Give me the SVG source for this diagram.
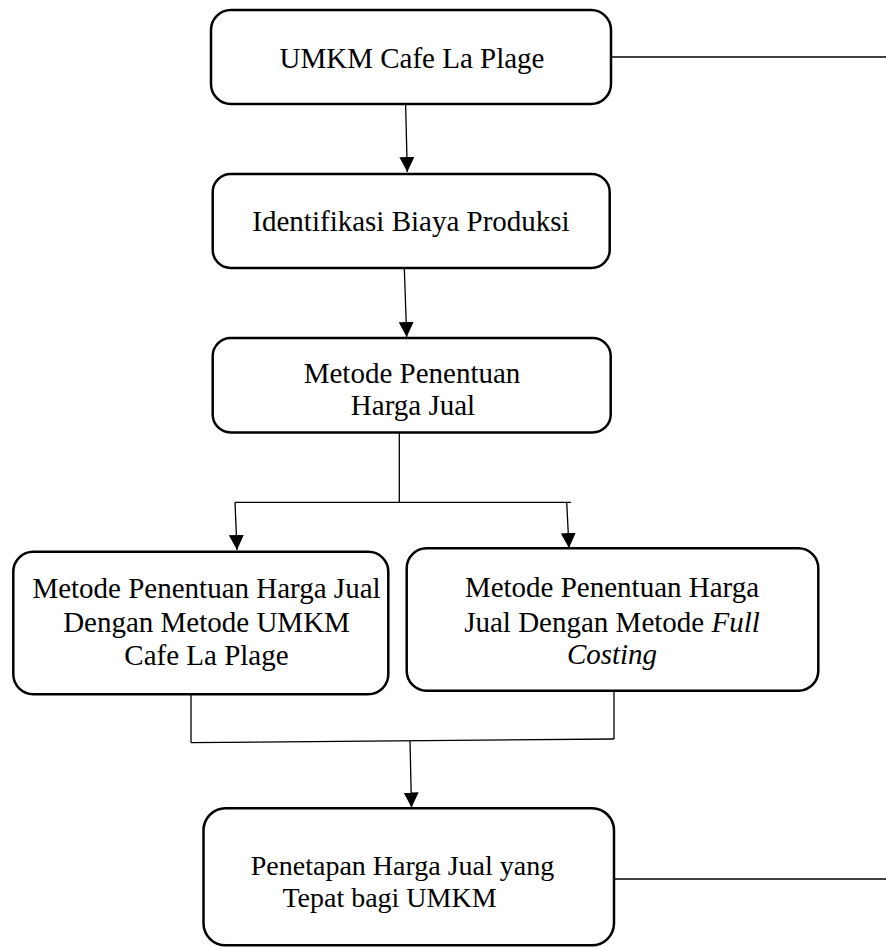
<svg xmlns="http://www.w3.org/2000/svg" width="886" height="947" viewBox="0 0 886 947">
<style>
.box{fill:#fff;stroke:#000;stroke-width:2.5}
.t{font-family:'Liberation Serif',serif;font-size:29px;fill:#000;text-anchor:middle}
.c{stroke:#000;stroke-width:1.3;fill:none}
.it{font-style:italic}
</style>
<defs>
<marker id="ah" markerUnits="userSpaceOnUse" markerWidth="15" markerHeight="15" refX="15" refY="7.5" orient="auto" viewBox="0 0 15 15">
<path d="M0,0 L15,7.5 L0,15 z" fill="#000"/>
</marker>
</defs>
<rect width="886" height="947" fill="#fff"/>
<g id="connectors">
<line class="c" x1="405.6" y1="104" x2="407.3" y2="172" marker-end="url(#ah)"/>
<line class="c" x1="404.3" y1="268" x2="406.7" y2="337" marker-end="url(#ah)"/>
<line class="c" x1="399.3" y1="432.7" x2="399.3" y2="502.3"/>
<line class="c" x1="235" y1="502.3" x2="571" y2="502.3"/>
<line class="c" x1="235" y1="502.3" x2="237" y2="550" marker-end="url(#ah)"/>
<line class="c" x1="566.7" y1="502.3" x2="569" y2="548" marker-end="url(#ah)"/>
<line class="c" x1="191" y1="694" x2="191" y2="742.7"/>
<line class="c" x1="614" y1="690.7" x2="614" y2="739"/>
<line class="c" x1="191" y1="742.7" x2="614" y2="739"/>
<line class="c" x1="410" y1="741" x2="411.5" y2="807.5" marker-end="url(#ah)"/>
<line class="c" x1="611" y1="57" x2="886" y2="57"/>
<line class="c" x1="614" y1="879" x2="886" y2="879" stroke-width="2"/>
</g>
<g id="n1">
<rect class="box" x="211" y="10" width="400" height="94" rx="20"/>
<text class="t" x="412" y="68">UMKM Cafe La Plage</text>
</g>
<g id="n2">
<rect class="box" x="212.7" y="174" width="397" height="94" rx="18"/>
<text class="t" x="411" y="231">Identifikasi Biaya Produksi</text>
</g>
<g id="n3">
<rect class="box" x="212.7" y="338" width="398" height="94.5" rx="18"/>
<text class="t" x="412" y="382.5">Metode Penentuan</text>
<text class="t" x="413" y="415">Harga Jual</text>
</g>
<g id="n4">
<rect class="box" x="13.3" y="551.7" width="375" height="142.6" rx="20"/>
<text class="t" x="206.5" y="598">Metode Penentuan Harga Jual</text>
<text class="t" x="206.5" y="632">Dengan Metode UMKM</text>
<text class="t" x="206.5" y="665">Cafe La Plage</text>
</g>
<g id="n5">
<rect class="box" x="406.7" y="548.3" width="411.6" height="142.4" rx="20"/>
<text class="t" x="612" y="597">Metode Penentuan Harga</text>
<text class="t" x="612" y="631.5">Jual Dengan Metode <tspan class="it">Full</tspan></text>
<text class="t it" x="612" y="664">Costing</text>
</g>
<g id="n6">
<rect class="box" x="203.5" y="808.3" width="410.5" height="137" rx="22"/>
<text class="t" x="402.5" y="875" style="font-size:28px">Penetapan Harga Jual yang</text>
<text class="t" x="389.5" y="907" style="font-size:28px">Tepat bagi UMKM</text>
</g>
</svg>
